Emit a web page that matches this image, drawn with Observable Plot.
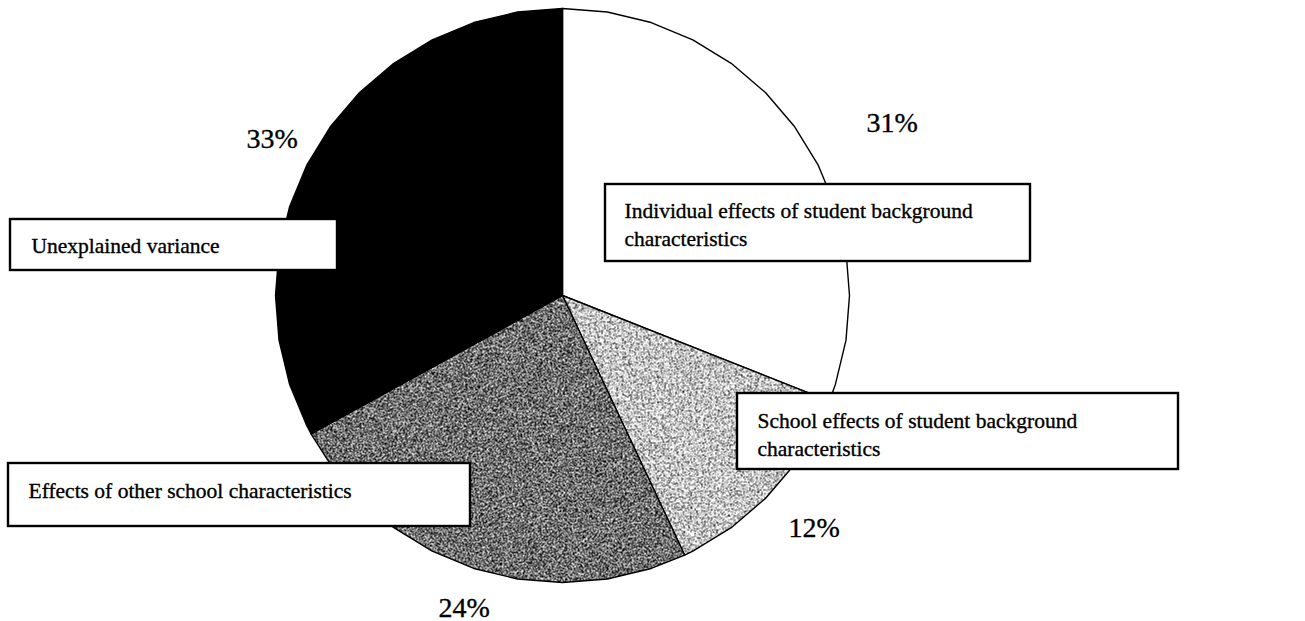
<!DOCTYPE html>
<html>
<head>
<meta charset="utf-8">
<script src="https://cdn.jsdelivr.net/npm/d3@7"></script>
<script src="https://cdn.jsdelivr.net/npm/@observablehq/plot@0.6"></script>
<style>
  html, body { margin: 0; padding: 0; background: #ffffff; }
  #chart { width: 1305px; height: 621px; }
  #chart svg { display: block; }
</style>
</head>
<body>
<div id="chart"></div>
<script>
// Variance decomposition, clockwise from 12 o'clock
const categories = [
  "Individual effects of student background characteristics",
  "School effects of student background characteristics",
  "Effects of other school characteristics",
  "Unexplained variance"
];
const shares = [31, 12, 24, 33];
const boxLabels = [
  "Individual effects of student background\ncharacteristics",
  "School effects of student background\ncharacteristics",
  "Effects of other school characteristics",
  "Unexplained variance"
];

// ---- layout (pixels) ----
const W = 1305, H = 621;
const CX = 562, CY = 295, R = 287;
const px = v => (v - CX) / R;      // pixel x -> pie units
const py = v => (CY - v) / R;      // pixel y -> pie units

// label boxes: [left, top, right, bottom], text origin [x, last baseline]
const boxLayout = [
  {box: [605, 184, 1030, 261], text: [624, 245]},
  {box: [737, 393, 1178, 469], text: [757, 455]},
  {box: [8, 463, 470, 526], text: [28, 497]},
  {box: [10, 219, 337, 270], text: [31, 252]}
];
// percentage labels: [left x, baseline]
const pctLayout = [[866, 131], [788, 536], [438, 616], [246, 147]];

const FONT = "'Liberation Serif', 'Times New Roman', serif";

// ---- slice outlines from the shares (drawn as a coarse polygon) ----
const STEP = Math.PI / 20; // 9 degree facets
const arcs = d3.pie().sort(null).startAngle(0).endAngle(2 * Math.PI)(shares);
const slicePoints = [];
arcs.forEach((a, i) => {
  const cat = categories[i];
  slicePoints.push({cat, x: 0, y: 0});
  const angles = [a.startAngle];
  for (let t = Math.ceil(a.startAngle / STEP + 1e-9) * STEP; t < a.endAngle - 1e-9; t += STEP) angles.push(t);
  angles.push(a.endAngle);
  for (const t of angles) slicePoints.push({cat, x: Math.sin(t), y: Math.cos(t)});
});

const boxes = categories.map((cat, i) => ({
  cat,
  label: boxLabels[i],
  x1: px(boxLayout[i].box[0]), x2: px(boxLayout[i].box[2]),
  y1: py(boxLayout[i].box[1]), y2: py(boxLayout[i].box[3]),
  tx: px(boxLayout[i].text[0]), ty: py(boxLayout[i].text[1])
}));

const pcts = shares.map((s, i) => ({
  label: `${s}%`,
  x: px(pctLayout[i][0]),
  y: py(pctLayout[i][1])
}));

const fills = {
  [categories[0]]: "#ffffff",
  [categories[1]]: "url(#grain-light)",
  [categories[2]]: "url(#grain-dark)",
  [categories[3]]: "#000000"
};

const plot = Plot.plot({
  width: W,
  height: H,
  margin: 0,
  style: {background: "#ffffff", fontFamily: FONT},
  x: {domain: [-1, 1], range: [CX - R, CX + R], axis: null},
  y: {domain: [-1, 1], range: [CY + R, CY - R], axis: null},
  marks: [
    ...categories.map(cat =>
      Plot.line(slicePoints.filter(d => d.cat === cat), {
        x: "x", y: "y",
        curve: "linear-closed",
        fill: fills[cat],
        stroke: "#000000",
        strokeWidth: 1.4,
        strokeLinejoin: "round"
      })
    ),
    Plot.rect(boxes, {
      x1: "x1", x2: "x2", y1: "y1", y2: "y2",
      fill: "#ffffff", stroke: "#000000", strokeWidth: 2.4
    }),
    Plot.text(boxes, {
      x: "tx", y: "ty", text: "label",
      textAnchor: "start", lineAnchor: "bottom", lineHeight: 1.3,
      fontSize: 21.5, fill: "#000000",
      stroke: "#000000", strokeWidth: 0.35
    }),
    Plot.text(pcts, {
      x: "x", y: "y", text: "label",
      textAnchor: "start", lineAnchor: "bottom",
      fontSize: 28, fill: "#000000",
      stroke: "#000000", strokeWidth: 0.35
    })
  ]
});

// stippled grey fills for the two shaded slices
const defs = `
<defs>
  <filter id="noise-light" filterUnits="userSpaceOnUse" x="0" y="0" width="${W}" height="${H}" color-interpolation-filters="sRGB">
    <feTurbulence type="fractalNoise" baseFrequency="0.85" numOctaves="2" seed="4"/>
    <feColorMatrix type="matrix" values="1 0 0 0 0  1 0 0 0 0  1 0 0 0 0  0 0 0 0 1"/>
    <feComponentTransfer>
      <feFuncR type="linear" slope="5" intercept="-1.55"/>
      <feFuncG type="linear" slope="5" intercept="-1.55"/>
      <feFuncB type="linear" slope="5" intercept="-1.55"/>
    </feComponentTransfer>
  </filter>
  <filter id="noise-dark" filterUnits="userSpaceOnUse" x="0" y="0" width="${W}" height="${H}" color-interpolation-filters="sRGB">
    <feTurbulence type="fractalNoise" baseFrequency="0.8" numOctaves="2" seed="9"/>
    <feColorMatrix type="matrix" values="1 0 0 0 0  1 0 0 0 0  1 0 0 0 0  0 0 0 0 1"/>
    <feComponentTransfer>
      <feFuncR type="linear" slope="5" intercept="-2.1"/>
      <feFuncG type="linear" slope="5" intercept="-2.1"/>
      <feFuncB type="linear" slope="5" intercept="-2.1"/>
    </feComponentTransfer>
  </filter>
  <pattern id="grain-light" patternUnits="userSpaceOnUse" x="0" y="0" width="${W}" height="${H}">
    <rect width="${W}" height="${H}" fill="#bbbbbb" filter="url(#noise-light)"/>
  </pattern>
  <pattern id="grain-dark" patternUnits="userSpaceOnUse" x="0" y="0" width="${W}" height="${H}">
    <rect width="${W}" height="${H}" fill="#888888" filter="url(#noise-dark)"/>
  </pattern>
</defs>`;
plot.insertAdjacentHTML("afterbegin", defs);

document.getElementById("chart").appendChild(plot);
</script>
</body>
</html>
